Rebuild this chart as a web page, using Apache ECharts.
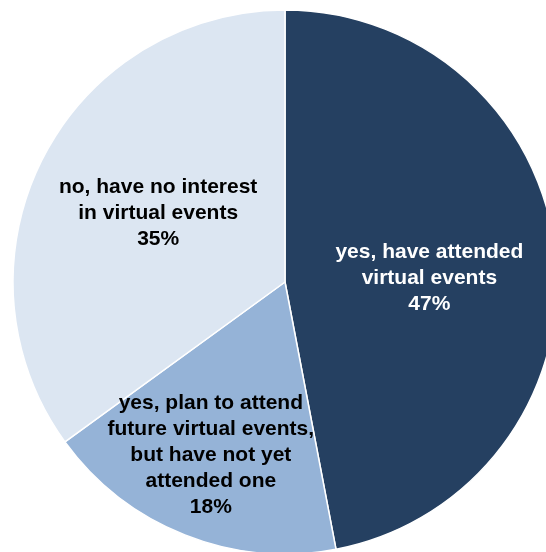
<!DOCTYPE html>
<html>
<head>
<meta charset="utf-8">
<style>
  html, body { margin: 0; padding: 0; background: #ffffff; }
  #chart { width: 546px; height: 552px; }
</style>
<script src="https://cdn.jsdelivr.net/npm/echarts@6/dist/echarts.min.js"></script>
</head>
<body>
<div id="chart"></div>
<script>
// Virtual event attendance survey, share of respondents (%)
const categories = [
  'yes, have attended\nvirtual events',
  'yes, plan to attend\nfuture virtual events,\nbut have not yet\nattended one',
  'no, have no interest\nin virtual events'
];
const values = [47, 18, 35];
const sliceColors = ['#254061', '#95B3D7', '#DCE6F2'];
const labelColors = ['#ffffff', '#000000', '#000000'];
// nudges of each label from its slice's mid-radius point
const labelShift = [[6, 9], [-23, 44], [-3, -6]];

const chart = echarts.init(document.getElementById('chart'));
chart.setOption({
  animation: false,
  series: [{
    type: 'pie',
    center: [285, 282],
    radius: [0, 272],
    startAngle: 90,
    clockwise: true,
    label: {
      position: 'inside',
      formatter: '{b}\n{c}%',
      fontFamily: 'Liberation Sans, Arial, sans-serif',
      fontWeight: 'bold',
      fontSize: 21,
      lineHeight: 26,
      align: 'center'
    },
    labelLine: { show: false },
    itemStyle: { borderColor: '#ffffff', borderWidth: 1.5 },
    emphasis: { disabled: true },
    labelLayout: function (p) {
      const s = labelShift[p.dataIndex];
      return { dx: s[0], dy: s[1] };
    },
    data: categories.map((name, i) => ({
      name: name,
      value: values[i],
      itemStyle: { color: sliceColors[i] },
      label: { color: labelColors[i] }
    }))
  }]
});
</script>
</body>
</html>
